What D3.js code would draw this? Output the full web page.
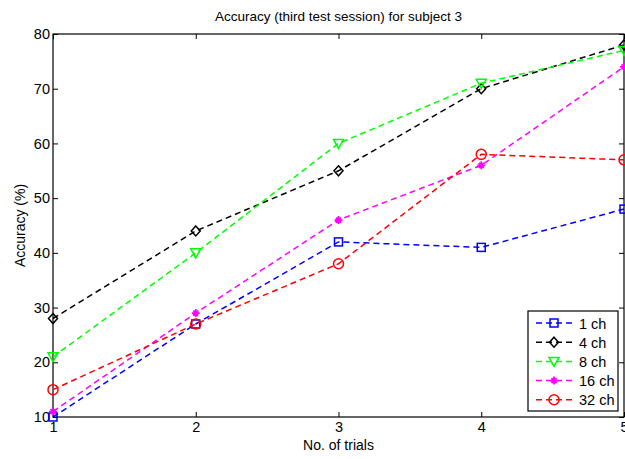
<!DOCTYPE html>
<html>
<head>
<meta charset="utf-8">
<script src="https://cdn.jsdelivr.net/npm/d3@7"></script>
<style>
  body { margin: 0; background: #fff; }
  text { font-family: "Liberation Sans", Arial, sans-serif; }
</style>
</head>
<body>
<div id="chart"></div>
<script>
// data
var trials = [1, 2, 3, 4, 5];
var ch1  = [10, 27, 42, 41, 48];
var ch4  = [28, 44, 55, 70, 78];
var ch8  = [21, 40, 60, 71, 77];
var ch16 = [11, 29, 46, 56, 74];
var ch32 = [15, 27, 38, 58, 57];
var yTicks = [10, 20, 30, 40, 50, 60, 70, 80];

var series = [
  {name: "1 ch",  values: ch1,  color: "#0000ff", marker: "square"},
  {name: "4 ch",  values: ch4,  color: "#000000", marker: "diamond"},
  {name: "8 ch",  values: ch8,  color: "#00ff00", marker: "triangle"},
  {name: "16 ch", values: ch16, color: "#ff00ff", marker: "star"},
  {name: "32 ch", values: ch32, color: "#ff0000", marker: "circle"}
];

var margin = {top: 34, right: 1, bottom: 42, left: 53},
  width = 625 - margin.left - margin.right,
  height = 459 - margin.top - margin.bottom;

var svg = d3.select("#chart")
  .append("svg")
    .attr("width", 625)
    .attr("height", 459)
  .append("g")
    .attr("transform", "translate(" + margin.left + "," + margin.top + ")");

var x = d3.scaleLinear().domain([1, 5]).range([0, width]);
var y = d3.scaleLinear().domain([10, 80]).range([height, 0]);

// box
svg.append("rect")
  .attr("width", width).attr("height", height)
  .attr("fill", "none").attr("stroke", "#000").attr("stroke-width", 1.2);

// axes with inward ticks
var tickLen = 5;
svg.append("g")
  .attr("transform", "translate(0," + height + ")")
  .call(d3.axisBottom(x).tickValues(trials).tickSizeInner(-tickLen).tickSizeOuter(0).tickPadding(5).tickFormat(d3.format("d")))
  .call(function(g) { g.select(".domain").remove(); });
svg.append("g")
  .call(d3.axisTop(x).tickValues(trials).tickSizeInner(-tickLen).tickSizeOuter(0).tickFormat(""))
  .call(function(g) { g.select(".domain").remove(); });
svg.append("g")
  .call(d3.axisLeft(y).tickValues(yTicks).tickSizeInner(-tickLen).tickSizeOuter(0).tickPadding(3))
  .call(function(g) { g.select(".domain").remove(); });
svg.append("g")
  .attr("transform", "translate(" + width + ",0)")
  .call(d3.axisRight(y).tickValues(yTicks).tickSizeInner(-tickLen).tickSizeOuter(0).tickFormat(""))
  .call(function(g) { g.select(".domain").remove(); });

svg.selectAll(".tick text").attr("font-size", 14.5).attr("fill", "#000")
  .attr("font-family", "Liberation Sans, Arial, sans-serif");
svg.selectAll(".tick line").attr("stroke", "#000");

// markers
function drawMarker(g, type, color) {
  if (type === "square") {
    g.append("rect").attr("x", -4).attr("y", -4).attr("width", 8).attr("height", 8)
      .attr("fill", "none").attr("stroke", color).attr("stroke-width", 1.5);
  } else if (type === "diamond") {
    g.append("path").attr("d", "M0,-5L4.5,0L0,5L-4.5,0Z")
      .attr("fill", "none").attr("stroke", color).attr("stroke-width", 1.5);
  } else if (type === "triangle") {
    g.append("path").attr("d", "M-5,-4L5,-4L0,5Z")
      .attr("fill", "none").attr("stroke", color).attr("stroke-width", 1.5);
  } else if (type === "star") {
    g.append("path").attr("d", "M-4,0L4,0M0,-4L0,4M-2.5,-2.5L2.5,2.5M-2.5,2.5L2.5,-2.5")
      .attr("fill", "none").attr("stroke", color).attr("stroke-width", 1.8);
  } else {
    g.append("circle").attr("r", 5)
      .attr("fill", "none").attr("stroke", color).attr("stroke-width", 1.5);
  }
}

var line = d3.line()
  .x(function(d, i) { return x(trials[i]); })
  .y(function(d) { return y(d); });

series.forEach(function(s) {
  svg.append("path")
    .datum(s.values)
    .attr("d", line)
    .attr("fill", "none")
    .attr("stroke", s.color)
    .attr("stroke-width", 1.5)
    .attr("stroke-dasharray", "6,4");
  s.values.forEach(function(v, i) {
    var g = svg.append("g").attr("transform", "translate(" + x(trials[i]) + "," + y(v) + ")");
    drawMarker(g, s.marker, s.color);
  });
});

// legend
var lgX = 475, lgY = 277, lgW = 90, lgH = 100;
var legend = svg.append("g").attr("transform", "translate(" + lgX + "," + lgY + ")");
legend.append("rect").attr("width", lgW).attr("height", lgH)
  .attr("fill", "#fff").attr("stroke", "#000").attr("stroke-width", 1.2);
series.forEach(function(s, i) {
  var ly = 12 + i * 19.2;
  var row = legend.append("g").attr("transform", "translate(0," + ly + ")");
  row.append("line").attr("x1", 8).attr("x2", 44).attr("y1", 0).attr("y2", 0)
    .attr("stroke", s.color).attr("stroke-width", 1.5).attr("stroke-dasharray", "6,4");
  var m = row.append("g").attr("transform", "translate(26,0)");
  drawMarker(m, s.marker, s.color);
  row.append("text").attr("x", 51).attr("y", 5.5).attr("font-size", 14.5).text(s.name);
});

// labels
svg.append("text")
  .attr("x", width / 2).attr("y", -13)
  .attr("text-anchor", "middle").attr("font-size", 13.5)
  .text("Accuracy (third test session) for subject 3");

svg.append("text")
  .attr("x", width / 2).attr("y", height + 33)
  .attr("text-anchor", "middle").attr("font-size", 14)
  .text("No. of trials");

svg.append("text")
  .attr("transform", "translate(-28," + (height / 2) + ") rotate(-90)")
  .attr("text-anchor", "middle").attr("font-size", 14)
  .text("Accuracy (%)");
</script>
</body>
</html>
